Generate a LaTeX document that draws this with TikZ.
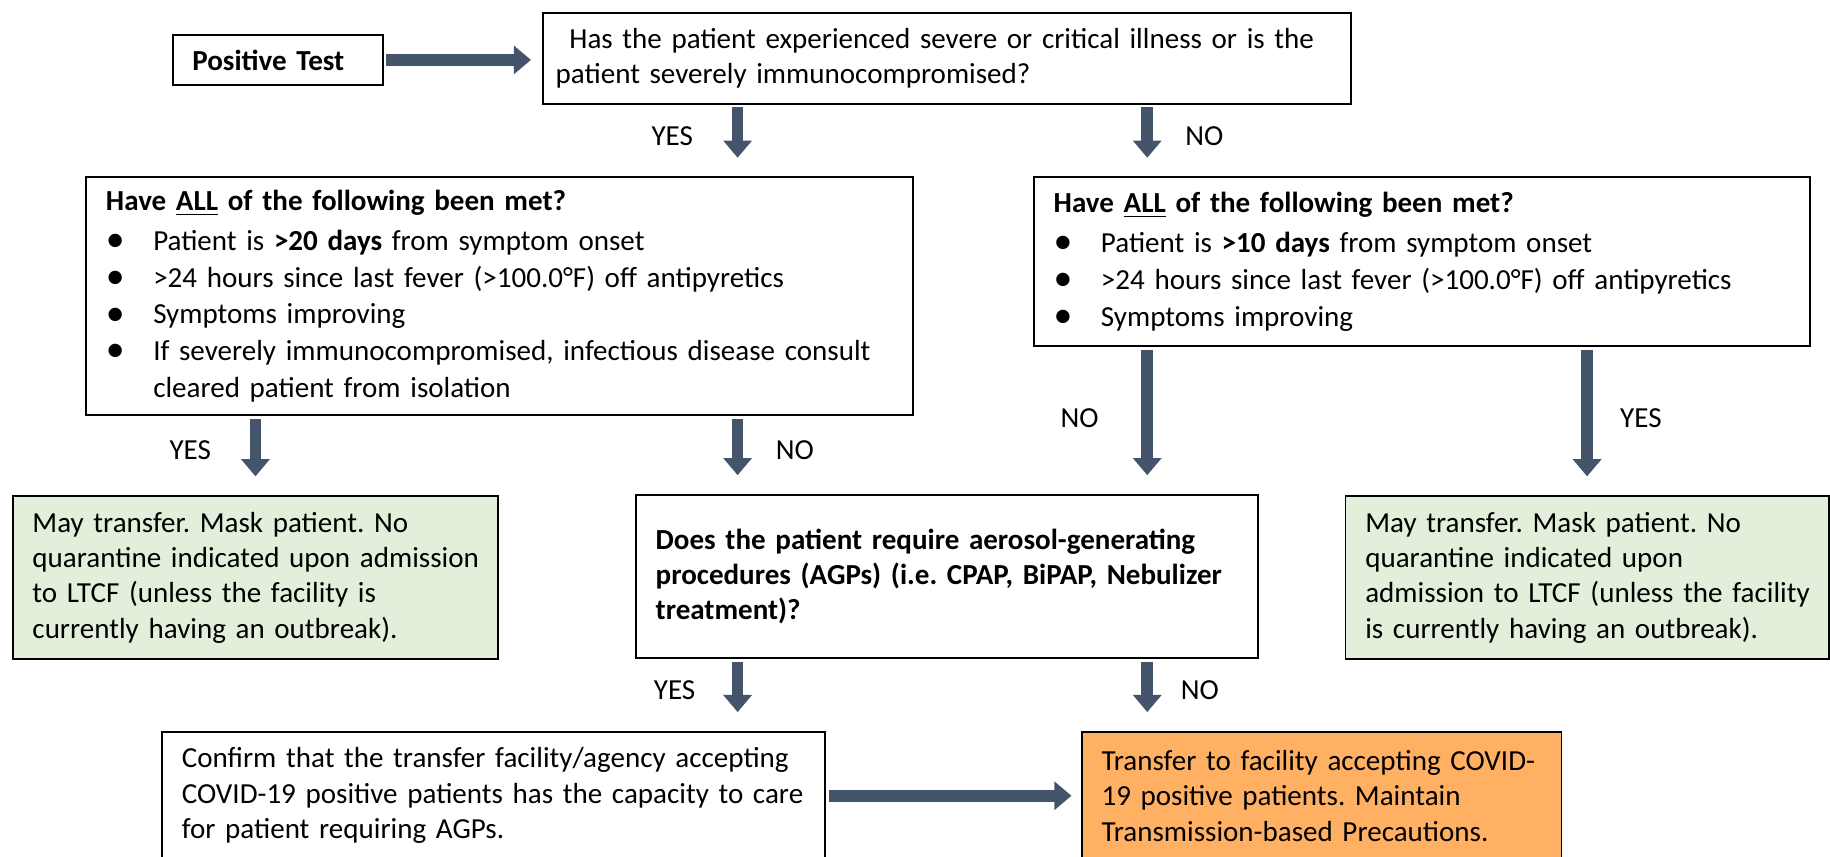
\documentclass[tikz,border=0pt]{standalone}
\usepackage{fontspec}
\setmainfont{Carlito}
\usepackage{xcolor}
\usetikzlibrary{arrows.meta, positioning}

\definecolor{arrowblue}{HTML}{44546A}
\definecolor{okgreen}{HTML}{E2EFDA}
\definecolor{covidorange}{HTML}{FFB062}
\newcommand{\bitem}{\makebox[17.9pt][l]{\raisebox{-0.4pt}{\scalebox{1.3}{\textbullet}}}}

\tikzset{
  flowbox/.style={draw, line width=0.75pt, rectangle, anchor=north west, align=left,
    inner xsep=7.5pt, inner ysep=0pt, font=\fontsize{11pt}{13.4pt}\selectfont\frenchspacing,
    execute at begin node={\rightskip=0pt plus 1fil minus 100pt\relax}},
  critbox/.style={flowbox, font=\fontsize{11pt}{14pt}\selectfont\frenchspacing},
  flow/.style={draw=arrowblue, line width=4.4pt, -{Triangle[width=10.5pt, length=6.5pt]},
    shorten <=1pt, shorten >=7pt},
  answer/.style={font=\fontsize{11pt}{13.4pt}\selectfont, inner sep=0pt}
}

\begin{document}
\begin{tikzpicture}[x=0.442pt, y=-0.442pt]
			\useasboundingbox (0, 0) rectangle (1568, 734);
			\clip (0, 0) rectangle (1568, 734);
			% Boxes:
			\node[flowbox, minimum width=79.6pt, minimum height=19pt, text width=64.6pt] (pos) at (147, 29){\textbf{Positive Test}};
			\node[flowbox, inner xsep=5pt, minimum width=306.3pt, minimum height=34.5pt, text width=296.3pt] (q1) at (464, 10){\hspace*{5.2pt}Has the patient experienced severe or critical illness or is the\\ patient severely immunocompromised?};
			\node[critbox, minimum width=313pt, minimum height=90.2pt, text width=298pt] (critL) at (73, 151){\textbf{Have \underline{ALL} of the following been met?}\\[1pt]
				\bitem Patient is \textbf{>20 days} from symptom onset\\
				\bitem >24 hours since last fever (>100.0°F) off antipyretics\\
				\bitem Symptoms improving\\
				\bitem If severely immunocompromised, infectious disease consult\\
				\hspace*{17.9pt}cleared patient from isolation};
			\node[critbox, minimum width=293.9pt, minimum height=64.1pt, text width=278.9pt] (critR) at (885, 151){\textbf{Have \underline{ALL} of the following been met?}\\[1pt]
				\bitem Patient is \textbf{>10 days} from symptom onset\\
				\bitem >24 hours since last fever (>100.0°F) off antipyretics\\
				\bitem Symptoms improving};
			\node[flowbox, fill=okgreen, minimum width=183.9pt, minimum height=61.9pt, text width=168.9pt] (greenL) at (10, 424){May transfer. Mask patient. No\\ quarantine indicated upon admission\\ to LTCF (unless the facility is\\ currently having an outbreak).};
			\node[flowbox, minimum width=235.6pt, minimum height=61.9pt, text width=220.6pt] (agp) at (544, 423){\textbf{Does the patient require aerosol-generating}\\ \textbf{procedures (AGPs) (i.e. CPAP, BiPAP, Nebulizer}\\ \textbf{treatment)?}};
			\node[flowbox, fill=okgreen, minimum width=183pt, minimum height=61.9pt, text width=168pt] (greenR) at (1152, 424){May transfer. Mask patient. No\\ quarantine indicated upon\\ admission to LTCF (unless the facility\\ is currently having an outbreak).};
			\node[flowbox, minimum width=251.1pt, minimum height=48.6pt, text width=236.1pt] (confirm) at (138, 626){Confirm that the transfer facility/agency accepting\\ COVID-19 positive patients has the capacity to care\\ for patient requiring AGPs.};
			\node[flowbox, fill=covidorange, minimum width=181.7pt, minimum height=48.6pt, text width=166.7pt] (transfer) at (926, 626){Transfer to facility accepting COVID-\\ 19 positive patients. Maintain\\ Transmission-based Precautions.};
			% Arrows and answers:
			\coordinate (colA) at (632, 0);
			\coordinate (colB) at (983, 0);
			\draw[flow, shorten >=4pt] (pos.east) -- (pos.east -| q1.west);
			\draw[flow] (q1.south -| colA) -- (critL.north -| colA);
			\draw[flow] (q1.south -| colB) -- (critR.north -| colB);
			\draw[flow] (critL.south -| greenL.north) -- (greenL.north);
			\draw[flow] (critL.south -| colA) -- (agp.north -| colA);
			\draw[flow] (critR.south -| colB) -- (agp.north -| colB);
			\draw[flow] (critR.south -| greenR.north) -- (greenR.north);
			\draw[flow] (agp.south -| colA) -- (confirm.north -| colA);
			\draw[flow] (agp.south -| colB) -- (transfer.north -| colB);
			\draw[flow, shorten >=3.5pt] (confirm.east) -- (confirm.east -| transfer.west);
			\node[answer] (yes1) at (576, 117){YES};
			\node[answer] (no1) at (1032, 117){NO};
			\node[answer] (yes2) at (163, 386){YES};
			\node[answer] (no2) at (681, 386){NO};
			\node[answer] (no3) at (925, 358){NO};
			\node[answer] (yes3) at (1406, 358){YES};
			\node[answer] (yes4) at (578, 591){YES};
			\node[answer] (no4) at (1028, 591){NO};
		\end{tikzpicture}
\end{document}
